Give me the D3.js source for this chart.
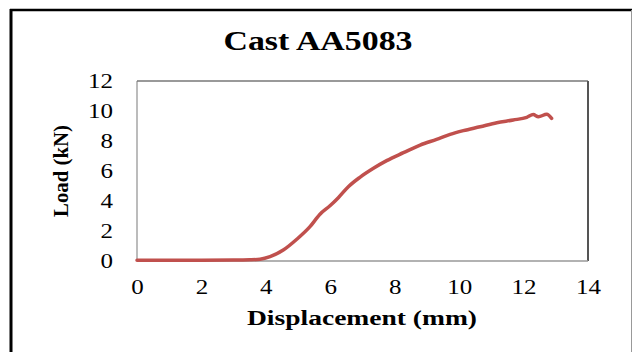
<!DOCTYPE html>
<html>
<head>
<meta charset="utf-8">
<script src="https://cdn.jsdelivr.net/npm/d3@7"></script>
<style>
body { margin: 0; background: #fff; }
svg { display: block; font-family: "Liberation Serif", "Times New Roman", serif; }
</style>
</head>
<body>
<svg width="632" height="352"></svg>
<script>
// displacement (mm) and load (kN)
var disp = [0, 1, 2, 3, 3.5, 3.82, 4.13, 4.54, 4.96, 5.37, 5.68, 5.99, 6.25, 6.56, 6.92, 7.34, 7.75, 8.27, 8.79, 9.3, 9.72, 10.13, 10.65, 11.17, 11.68, 12.1, 12.3, 12.46, 12.72, 12.87];
var load = [0.05, 0.05, 0.05, 0.06, 0.08, 0.12, 0.29, 0.73, 1.45, 2.29, 3.12, 3.68, 4.22, 4.95, 5.58, 6.18, 6.69, 7.22, 7.73, 8.11, 8.44, 8.69, 8.95, 9.22, 9.4, 9.58, 9.76, 9.62, 9.78, 9.51];
var xTicks = [0, 2, 4, 6, 8, 10, 12, 14];
var yTicks = [0, 2, 4, 6, 8, 10, 12];

var data = disp.map(function(d, i) {
	return { x: d, y: load[i] };
});

var margin = { left: 137, top: 81, right: 44, bottom: 91 };
var svg = d3.select("svg");
var width = 632 - margin.left - margin.right;
var height = 352 - margin.top - margin.bottom;

// outer frame
svg.append("line").attr("x1", 11).attr("x2", 11).attr("y1", 9).attr("y2", 352)
		.attr("stroke", "#000").attr("stroke-width", 3);
svg.append("line").attr("x1", 10).attr("x2", 632).attr("y1", 10).attr("y2", 10)
		.attr("stroke", "#000").attr("stroke-width", 2.5);
svg.append("line").attr("x1", 631.5).attr("x2", 631.5).attr("y1", 10).attr("y2", 352)
		.attr("stroke", "#999").attr("stroke-width", 1);

var g = svg.append("g").attr("transform",
		"translate(" + margin.left + "," + margin.top + ")");

var xScale = d3.scaleLinear().domain([ 0, 14 ]).range([ 0, width ]);
var yScale = d3.scaleLinear().domain([ 0, 12 ]).range([ height, 0 ]);

// plot area border
g.append("line").attr("x1", 0).attr("x2", 0).attr("y1", 0).attr("y2", height)
		.attr("stroke", "#a6a6a6").attr("stroke-width", 1.5);
g.append("line").attr("x1", 0).attr("x2", width).attr("y1", 0).attr("y2", 0)
		.attr("stroke", "#777").attr("stroke-width", 1.5);
g.append("line").attr("x1", width).attr("x2", width).attr("y1", 0).attr("y2", height)
		.attr("stroke", "#555").attr("stroke-width", 2);
g.append("line").attr("x1", 0).attr("x2", width).attr("y1", height).attr("y2", height)
		.attr("stroke", "#999").attr("stroke-width", 1.5);

var xAxis = g.append("g").attr("transform", "translate(0," + height + ")")
		.call(d3.axisBottom(xScale).tickValues(xTicks).tickSize(0).tickPadding(19));
var yAxis = g.append("g")
		.call(d3.axisLeft(yScale).tickValues(yTicks).tickSize(0).tickPadding(24));
[ xAxis, yAxis ].forEach(function(a) {
	a.select(".domain").remove();
	a.selectAll("text").attr("fill", "#000").style("font-size", "20px")
			.style("font-family", "'Liberation Serif', serif")
			.each(function() {
				var w = this.getComputedTextLength();
				d3.select(this).attr("textLength", w * 1.25)
						.attr("lengthAdjust", "spacingAndGlyphs");
			});
});

var line = d3.line().curve(d3.curveMonotoneX).x(function(d) {
	return xScale(d.x);
}).y(function(d) {
	return yScale(d.y);
});
g.append("path").datum(data).attr("fill", "none").attr("stroke", "#c0504d")
		.attr("stroke-width", 3.5).attr("stroke-linejoin", "round")
		.attr("stroke-linecap", "round").attr("d", line);

// titles
svg.append("text").attr("x", 318).attr("y", 50).attr("text-anchor", "middle")
		.style("font-size", "27px").style("font-weight", "bold")
		.attr("textLength", 189).attr("lengthAdjust", "spacingAndGlyphs")
		.text("Cast AA5083");
svg.append("text").attr("x", 362).attr("y", 325).attr("text-anchor", "middle")
		.style("font-size", "20px").style("font-weight", "bold")
		.attr("textLength", 230).attr("lengthAdjust", "spacingAndGlyphs")
		.text("Displacement (mm)");
svg.append("text").attr("transform", "translate(68,171) rotate(-90)")
		.attr("text-anchor", "middle").style("font-size", "20px")
		.style("font-weight", "bold").attr("textLength", 92)
		.attr("lengthAdjust", "spacingAndGlyphs").text("Load (kN)");
</script>
</body>
</html>
